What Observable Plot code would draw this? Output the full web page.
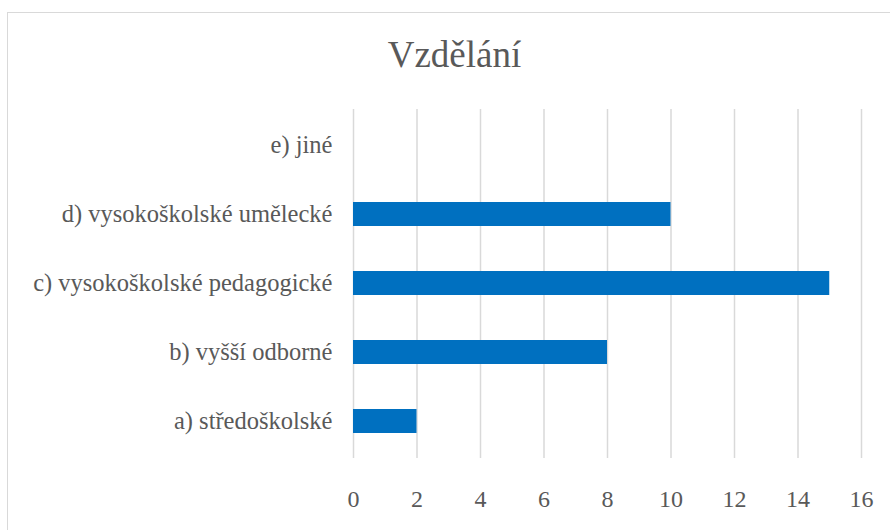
<!DOCTYPE html>
<html>
<head>
<meta charset="utf-8">
<script src="https://cdn.jsdelivr.net/npm/d3@7"></script>
<script src="https://cdn.jsdelivr.net/npm/@observablehq/plot@0.6"></script>
<style>
  html, body { margin: 0; padding: 0; background: #fff; overflow: hidden; }
  #wrap { position: relative; width: 890px; height: 530px; overflow: hidden; font-family: "Liberation Serif", "Times New Roman", serif; }
  #frame { position: absolute; left: 7px; top: 12px; width: 1000px; height: 1000px; border: 1.5px solid #d9d9d9; box-sizing: border-box; pointer-events: none; }
  #title { position: absolute; left: 0; width: 909px; top: 37px; text-align: center; font-size: 37px; color: #595959; line-height: 36px; }
  #chart { position: absolute; left: 0; top: 0; }
</style>
</head>
<body>
<div id="wrap">
  <div id="frame"></div>
  <div id="chart"></div>
  <div id="title">Vzdělání</div>
</div>
<script>
const categories = ["a) středoškolské", "b) vyšší odborné", "c) vysokoškolské pedagogické", "d) vysokoškolské umělecké", "e) jiné"];
const values = [2, 8, 15, 10, 0];
const xTicks = [0, 2, 4, 6, 8, 10, 12, 14, 16];

const data = categories.map((c, i) => ({category: c, value: values[i]}));
const FONT = "Liberation Serif, Times New Roman, serif";

const chart = Plot.plot({
  width: 890,
  height: 530,
  marginLeft: 353,
  marginRight: 29,
  marginTop: 109,
  marginBottom: 72,
  style: {fontFamily: FONT, fontSize: "24px", color: "#595959", background: "transparent"},
  x: {domain: [0, 16], ticks: xTicks, label: null},
  y: {domain: categories.slice().reverse(), label: null, paddingInner: 0.65, paddingOuter: 0.325},
  marks: [
    Plot.ruleX(xTicks, {stroke: "#d9d9d9", strokeWidth: 1.5}),
    Plot.barX(data, {x: "value", y: "category", fill: "#0070C0"}),
    Plot.axisX({ticks: xTicks, tickSize: 0, tickPadding: 31, fill: "#595959", fontSize: 24, fontFamily: FONT, label: null}),
    Plot.axisY({tickSize: 0, tickPadding: 21, fill: "#595959", fontSize: 24.5, fontFamily: FONT, label: null})
  ]
});
document.getElementById("chart").appendChild(chart);
</script>
</body>
</html>
